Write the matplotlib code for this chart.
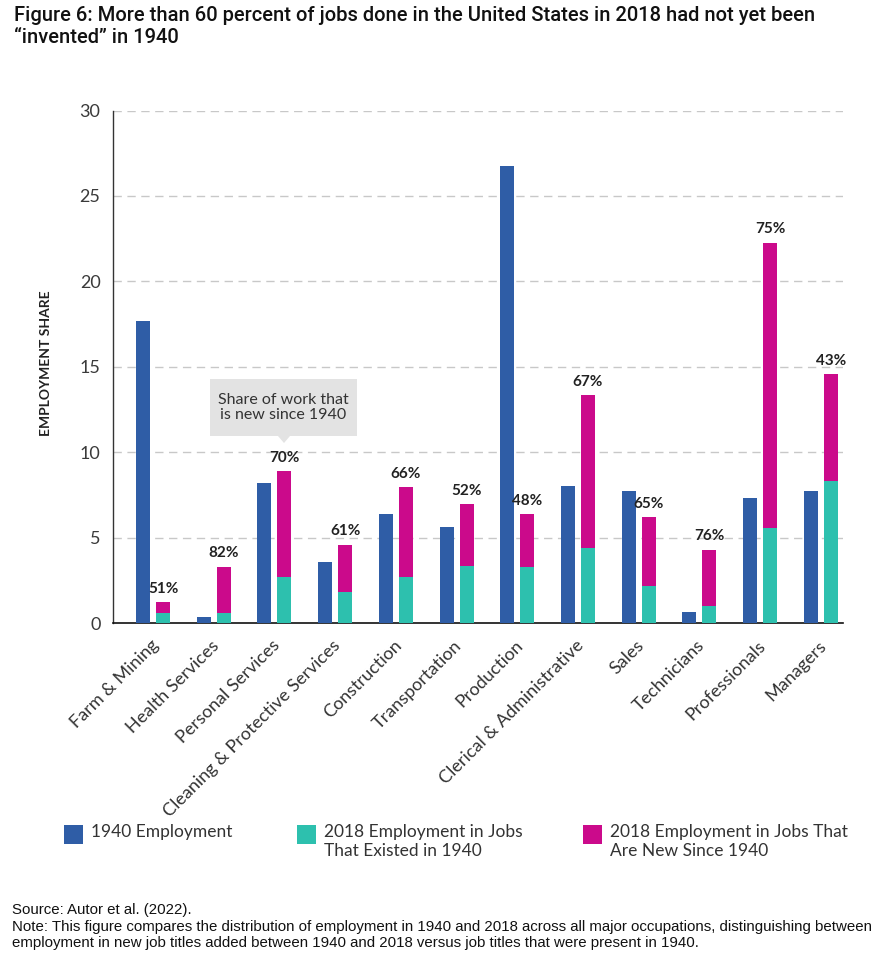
import matplotlib
matplotlib.use("Agg")
import matplotlib.pyplot as plt
import matplotlib.transforms as mtransforms
from matplotlib.patches import Rectangle, Polygon
import numpy as np

# data
categories = ["Farm & Mining", "Health Services", "Personal Services",
              "Cleaning & Protective Services", "Construction", "Transportation",
              "Production", "Clerical & Administrative", "Sales", "Technicians",
              "Professionals", "Managers"]
emp1940 = [17.7, 0.34, 8.2, 3.6, 6.4, 5.6, 26.75, 8.0, 7.7, 0.67, 7.3, 7.7]
emp2018_existing = [0.59, 0.59, 2.7, 1.8, 2.7, 3.35, 3.3, 4.4, 2.18, 1.02, 5.57, 8.32]
emp2018_new = [0.62, 2.71, 6.2, 2.79, 5.27, 3.63, 3.07, 8.95, 4.01, 3.27, 16.7, 6.27]
pct_new = ["51%", "82%", "70%", "61%", "66%", "52%", "48%", "67%", "65%", "76%", "75%", "43%"]
yticks = [0, 5, 10, 15, 20, 25, 30]

BLUE = "#2F5DA6"
TEAL = "#2DC0AE"
MAGENTA = "#CB0A8B"
TEXT = "#222222"

W, H = 886, 965
fig = plt.figure(figsize=(W / 100, H / 100), dpi=100)
fig.patch.set_facecolor("white")

ax = fig.add_axes([113 / W, 1 - 623 / H, (843 - 113) / W, (623 - 110.5) / H])

x = np.arange(len(categories))
bw = 0.23
off = 0.165
ax.bar(x - off, emp1940, width=bw, color=BLUE, zorder=3)
ax.bar(x + off, emp2018_existing, width=bw, color=TEAL, zorder=3)
ax.bar(x + off, emp2018_new, width=bw, bottom=emp2018_existing, color=MAGENTA, zorder=3)

totals = np.array(emp2018_existing) + np.array(emp2018_new)
for i, t in enumerate(totals):
    ax.annotate(pct_new[i], (x[i] + off, t), xytext=(0, 4.5), textcoords="offset points",
                ha="center", va="bottom", fontsize=11, fontweight="bold",
                family="Lato", color=TEXT)

ax.set_xlim(-0.659, 11.366)
ax.set_ylim(0, 30)
ax.set_yticks(yticks)
ax.set_yticklabels([str(v) for v in yticks], fontsize=13, family="Lato", color="#3A3A3A")
shift = mtransforms.ScaledTranslation(0, -6 / 100, fig.dpi_scale_trans)
for lbl in ax.get_yticklabels():
    lbl.set_transform(lbl.get_transform() + shift)
ax.tick_params(axis="y", length=0, pad=9)
ax.tick_params(axis="x", length=0, pad=14.4)

ax.set_xticks(x)
ax.set_xticklabels(categories, rotation=45, ha="right", va="center", rotation_mode="anchor",
                   fontsize=13, family="Lato", color="#333333")
xshift = mtransforms.ScaledTranslation(3 / 100, 0, fig.dpi_scale_trans)
for lbl in ax.get_xticklabels():
    lbl.set_transform(lbl.get_transform() + xshift)

for v in yticks[1:]:
    ax.axhline(v, color="#C8C8C8", lw=1, ls=(0, (6, 4)), zorder=1)

for s in ["top", "right"]:
    ax.spines[s].set_visible(False)
ax.spines["left"].set_color("#333333")
ax.spines["left"].set_linewidth(1)
ax.spines["bottom"].set_color("#111111")
ax.spines["bottom"].set_linewidth(1.2)

fig.text(46 / W, 1 - 363 / H, "EMPLOYMENT SHARE", rotation=90, ha="center", va="center",
         fontsize=10, fontweight="bold", family="Lato", color=TEXT)

# callout box
box = Rectangle((210 / W, 1 - 436 / H), (357 - 210) / W, (436 - 379) / H,
                transform=fig.transFigure, facecolor="#E3E3E3", edgecolor="none")
fig.patches.append(box)
tri = Polygon([(278 / W, 1 - 436 / H), (290 / W, 1 - 436 / H), (284 / W, 1 - 443 / H)],
              closed=True, transform=fig.transFigure, facecolor="#E3E3E3", edgecolor="none")
fig.patches.append(tri)
fig.text(283.5 / W, 1 - 407.5 / H, "Share of work that\nis new since 1940", ha="center",
         va="center", fontsize=11.5, family="Lato", color="#333333", linespacing=1.15)

# title
fig.text(14 / W, 1 - 6 / H, "Figure 6: More than 60 percent of jobs done in the United States in 2018 had not yet been\n\u201cinvented\u201d in 1940",
         ha="left", va="top", fontsize=14.5, family="Roboto", fontweight="medium",
         color="#111111", linespacing=1.2)

# legend
legend_items = [(64, BLUE, "1940 Employment"),
                (297, TEAL, "2018 Employment in Jobs\nThat Existed in 1940"),
                (583, MAGENTA, "2018 Employment in Jobs That\nAre New Since 1940")]
for lx, col, lab in legend_items:
    fig.patches.append(Rectangle((lx / W, 1 - 844 / H), 19 / W, 19 / H,
                                 transform=fig.transFigure, facecolor=col, edgecolor="none"))
    fig.text((lx + 27) / W, 1 - 824 / H, lab, ha="left", va="top", fontsize=12.5,
             family="Lato", color="#333333", linespacing=1.2)

# source and note
fig.text(12 / W, 1 - 910 / H, "Source: Autor et al. (2022).", ha="left", va="center",
         fontsize=10.8, family="Liberation Sans", color="#111111")
fig.text(12 / W, 1 - 935 / H,
         "Note: This figure compares the distribution of employment in 1940 and 2018 across all major occupations, distinguishing between\n"
         "employment in new job titles added between 1940 and 2018 versus job titles that were present in 1940.",
         ha="left", va="center", fontsize=10.8, family="Liberation Sans",
         color="#111111", linespacing=1.1)

fig.savefig("out.png", dpi=100, facecolor="white")
